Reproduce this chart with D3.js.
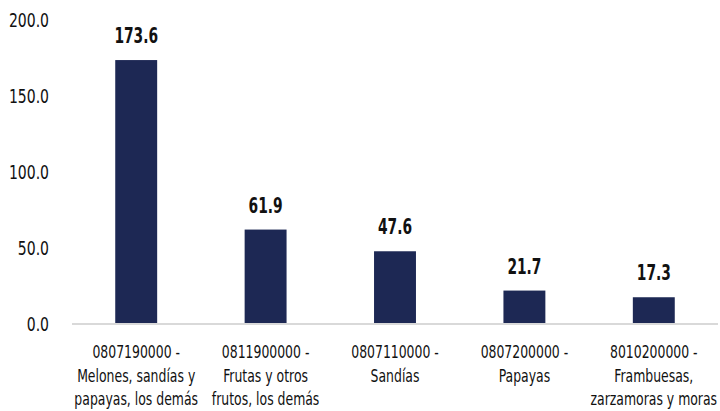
<!DOCTYPE html>
<html>
<head>
<meta charset="utf-8">
<script src="https://cdn.jsdelivr.net/npm/d3@7"></script>
<style>
  body { margin: 0; background: #fff; }
  svg text { font-family: "DejaVu Sans Condensed", "DejaVu Sans", sans-serif; fill: #111; }
</style>
</head>
<body>
<svg id="chart" width="720" height="411"></svg>
<script>
// chart data
var categories = [
  ["0807190000 -", "Melones, sandías y", "papayas, los demás"],
  ["0811900000 -", "Frutas y otros", "frutos, los demás"],
  ["0807110000 -", "Sandías"],
  ["0807200000 -", "Papayas"],
  ["8010200000 -", "Frambuesas,", "zarzamoras y moras"]
];
var values = [173.6, 61.9, 47.6, 21.7, 17.3];
var yTicks = [0, 50, 100, 150, 200];

var svg = d3.select("#chart");

// narrow the glyphs, the original uses a condensed face
function squeeze(sel, f) {
    sel.each(function() {
        var w = this.getComputedTextLength();
        d3.select(this).attr("textLength", w * f).attr("lengthAdjust", "spacingAndGlyphs");
    });
}

var x = d3.scaleBand()
    .domain(d3.range(values.length))
    .range([71.5, 718.5])
    .paddingInner(0.676)
    .paddingOuter(0.338);

var y = d3.scaleLinear()
    .domain([0, 200])
    .range([323.5, 20]);

// y axis labels, no line
var yAxis = d3.axisLeft(y).tickValues(yTicks).tickFormat(d3.format(".1f")).tickSize(0).tickPadding(0);
var gy = svg.append("g").attr("transform", "translate(49,0)").call(yAxis);
gy.select(".domain").remove();
gy.selectAll("text")
    .attr("font-family", null)
    .attr("font-size", null)
    .style("font-size", "19px")
    .attr("dy", "0.36em")
    .attr("fill", "#111");
squeeze(gy.selectAll("text"), 0.82);

// bars
svg.selectAll("rect.bar").data(values).enter().append("rect")
    .attr("class", "bar")
    .attr("x", function(d, i) { return x(i); })
    .attr("y", function(d) { return y(d); })
    .attr("width", x.bandwidth())
    .attr("height", function(d) { return y(0) - y(d); })
    .attr("fill", "#1d2854");

// baseline
svg.append("line")
    .attr("x1", 72).attr("x2", 718)
    .attr("y1", y(0) + 0.5).attr("y2", y(0) + 0.5)
    .attr("stroke", "#d9d9d9").attr("stroke-width", 2);

// value labels
var vals = svg.selectAll("text.val").data(values).enter().append("text")
    .attr("class", "val")
    .attr("x", function(d, i) { return x(i) + x.bandwidth() / 2; })
    .attr("y", function(d) { return y(d) - 17; })
    .attr("text-anchor", "middle")
    .style("font-size", "21px")
    .style("font-weight", "bold")
    .text(function(d) { return d.toFixed(1); });
squeeze(vals, 0.73);

// category labels
var cat = svg.selectAll("text.cat").data(categories).enter().append("text")
    .attr("class", "cat")
    .attr("text-anchor", "middle")
    .style("font-size", "17.5px")
    .attr("transform", function(d, i) { return "translate(" + (x(i) + x.bandwidth() / 2) + ",358)"; });
var lines = cat.selectAll("tspan").data(function(d) { return d; }).enter().append("tspan")
    .attr("x", 0)
    .attr("y", function(d, j) { return j * 23.5; })
    .text(function(d) { return d; });
squeeze(lines, 0.79);
</script>
</body>
</html>
